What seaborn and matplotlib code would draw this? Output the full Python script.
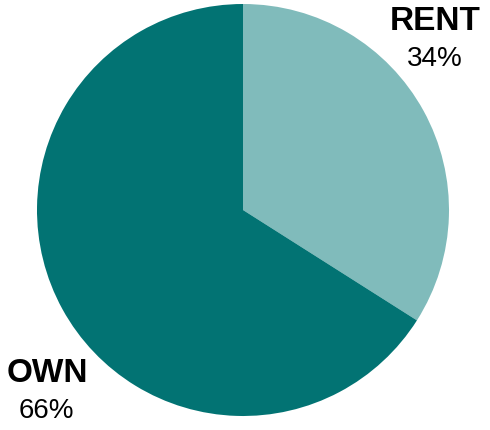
import matplotlib
matplotlib.use("Agg")
import matplotlib.pyplot as plt
import seaborn as sns

# === Data ===
labels = ["RENT", "OWN"]
shares = [34, 66]
colors = ["#80BBBB", "#027373"]

sns.set_style("white")
plt.rcParams['font.family'] = ['Liberation Sans', 'DejaVu Sans']

W, H = 490, 430
fig = plt.figure(figsize=(W / 100, H / 100), dpi=100)

# pie box in pixels: center (243, 210), radius 206
cx, cy, r = 243, 210, 206
ax = fig.add_axes([(cx - r) / W, 1 - (cy + r) / H, 2 * r / W, 2 * r / H])
ax.pie(shares, colors=colors, startangle=90, counterclock=False,
       wedgeprops=dict(linewidth=0))
ax.set_xlim(-1, 1)
ax.set_ylim(-1, 1)
ax.axis("off")

# labels, positioned in pixel coords from top-left
label_pos = {"RENT": (435, 21, 435, 59), "OWN": (47, 373, 46, 411)}
for lab, val in zip(labels, shares):
    x1, y1, x2, y2 = label_pos[lab]
    fig.text(x1 / W, 1 - y1 / H, lab, ha="center", va="center",
             fontsize=24, fontweight="bold", color="black")
    fig.text(x2 / W, 1 - y2 / H, f"{val}%", ha="center", va="center",
             fontsize=20, color="black")

fig.savefig("out.png", dpi=100)
